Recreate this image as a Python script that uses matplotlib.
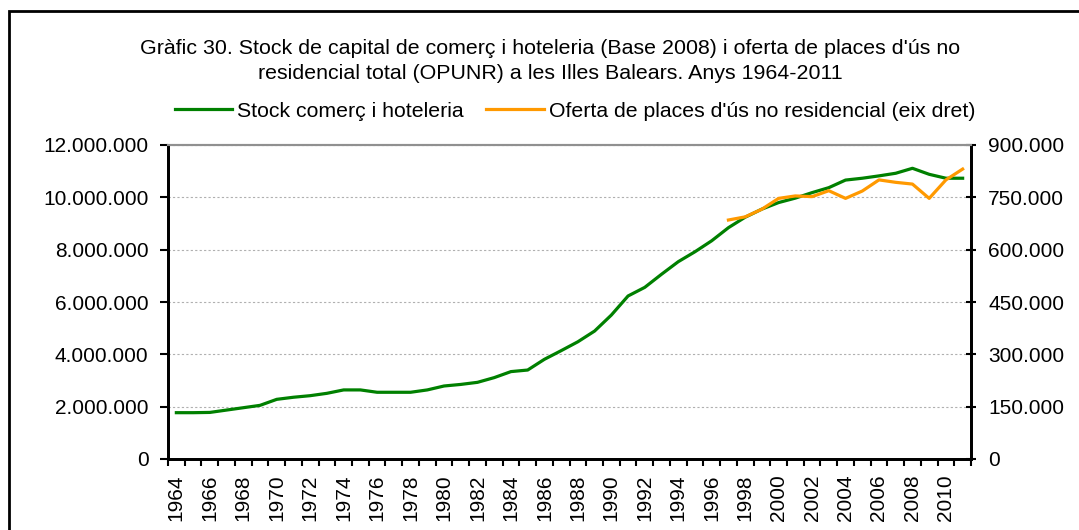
import matplotlib
matplotlib.use("Agg")
import matplotlib.pyplot as plt
from matplotlib.patches import Rectangle
from matplotlib.ticker import FuncFormatter, FixedLocator
import numpy as np

plt.rcParams['font.family'] = ['Liberation Sans', 'DejaVu Sans']

years = list(range(1964, 2012))
stock = [1.77e6, 1.77e6, 1.78e6, 1.87e6, 1.96e6, 2.05e6, 2.28e6, 2.36e6, 2.42e6, 2.51e6,
         2.64e6, 2.64e6, 2.55e6, 2.55e6, 2.55e6, 2.64e6, 2.79e6, 2.85e6, 2.93e6, 3.11e6,
         3.34e6, 3.40e6, 3.81e6, 4.14e6, 4.48e6, 4.89e6, 5.50e6, 6.23e6, 6.56e6, 7.06e6,
         7.54e6, 7.92e6, 8.34e6, 8.84e6, 9.24e6, 9.55e6, 9.80e6, 9.97e6, 10.18e6, 10.37e6,
         10.66e6, 10.73e6, 10.82e6, 10.92e6, 11.11e6, 10.88e6, 10.73e6, 10.73e6]
opunr_years = list(range(1997, 2012))
opunr = [685e3, 694e3, 716e3, 747e3, 754e3, 752e3, 769e3, 747e3, 768e3, 800e3,
         793e3, 788e3, 747e3, 800e3, 831e3]

title = ("Gràfic 30. Stock de capital de comerç i hoteleria (Base 2008) i oferta de places d'ús no\n"
         "residencial total (OPUNR) a les Illes Balears. Anys 1964-2011")
label_stock = "Stock comerç i hoteleria"
label_opunr = "Oferta de places d'ús no residencial (eix dret)"

GREEN = "#008000"
ORANGE = "#FF9900"

W, H = 1079, 530
fig = plt.figure(figsize=(W / 100, H / 100), dpi=100)
L, R, T, B = 168, 971, 145, 459
ax = fig.add_axes([L / W, 1 - B / H, (R - L) / W, (B - T) / H])
ax2 = ax.twinx()

x = np.arange(len(years))
xo = np.array([years.index(y) for y in opunr_years])

l1, = ax.plot(x, stock, color=GREEN, lw=2.3, solid_joinstyle='round', zorder=3)
l2, = ax2.plot(xo, opunr, color=ORANGE, lw=2.3, solid_joinstyle='round', zorder=3)

ax.set_xlim(-0.5, len(years) - 0.5)
ax.set_ylim(0, 12e6)
ax2.set_ylim(0, 900e3)
ax.set_yticks(np.arange(0, 12e6 + 1, 2e6))
ax2.set_yticks(np.arange(0, 900e3 + 1, 150e3))

def thousands(v, pos):
    return f"{int(round(v)):,}".replace(",", ".")

ax.yaxis.set_major_formatter(FuncFormatter(thousands))
ax2.yaxis.set_major_formatter(FuncFormatter(thousands))

ax.set_xticks(x[::2])
ax.set_xticklabels([str(y) for y in years[::2]], rotation=90)
ax.xaxis.set_minor_locator(FixedLocator(np.arange(-0.5, len(years), 1.0)))
ax.tick_params(axis='x', which='major', length=0, pad=11, labelsize=15)
ax.tick_params(axis='x', which='minor', length=5, width=1.5, direction='out', color='black')
ax.tick_params(axis='y', length=6, width=1.5, direction='out', pad=8, labelsize=15)
ax2.tick_params(axis='y', length=7, width=1.5, direction='inout', pad=9, labelsize=15)

ax.grid(axis='y', color='#b0b0b0', lw=0.8, linestyle=(0, (2, 2)))
ax.set_axisbelow(True)

for a in (ax, ax2):
    a.spines['top'].set_color('#909090')
    a.spines['top'].set_linewidth(1.5)
    a.spines['left'].set_linewidth(2)
    a.spines['bottom'].set_linewidth(2)
    a.spines['right'].set_linewidth(2)

# legend
fig.legend([l1, l2], [label_stock, label_opunr], loc='center', ncol=2,
           bbox_to_anchor=(575 / W, 1 - 111 / H), frameon=False, fontsize=15.3,
           handlelength=2.7, handletextpad=0.25, columnspacing=1.05)

fig.text(550 / W, 1 - 61 / H, title, ha='center', va='center', fontsize=15.4,
         linespacing=1.38)

# outer frame
fig.add_artist(Rectangle((9 / W, -0.1), 1.2, 1 - 11 / H + 0.1, transform=fig.transFigure,
                         fill=False, edgecolor='black', lw=2))

fig.savefig("out.png", dpi=100)
